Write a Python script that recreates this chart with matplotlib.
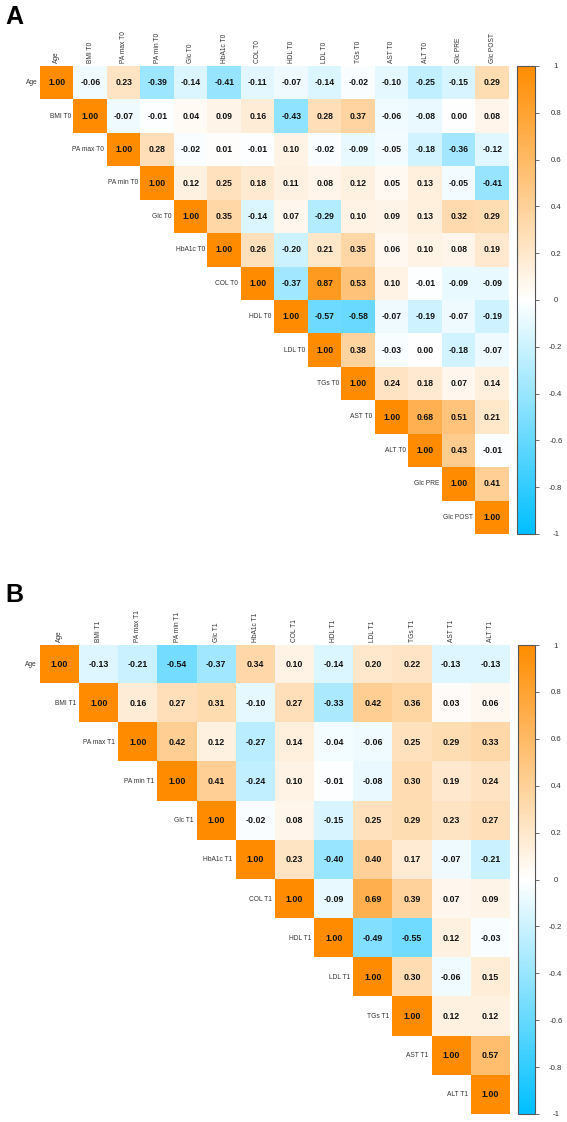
import matplotlib
matplotlib.use("Agg")
import matplotlib.pyplot as plt
import numpy as np
from matplotlib.colors import LinearSegmentedColormap

plt.rcParams["font.family"] = ["Liberation Sans", "DejaVu Sans"]

labels_a = ["Age", "BMI T0", "PA max T0", "PA min T0", "Glc T0", "HbA1c T0", "COL T0",
            "HDL T0", "LDL T0", "TGs T0", "AST T0", "ALT T0", "Glc PRE", "Glc POST"]
rows_a = [
    [1.00, -0.06, 0.23, -0.39, -0.14, -0.41, -0.11, -0.07, -0.14, -0.02, -0.10, -0.25, -0.15, 0.29],
    [1.00, -0.07, -0.01, 0.04, 0.09, 0.16, -0.43, 0.28, 0.37, -0.06, -0.08, 0.00, 0.08],
    [1.00, 0.28, -0.02, 0.01, -0.01, 0.10, -0.02, -0.09, -0.05, -0.18, -0.36, -0.12],
    [1.00, 0.12, 0.25, 0.18, 0.11, 0.08, 0.12, 0.05, 0.13, -0.05, -0.41],
    [1.00, 0.35, -0.14, 0.07, -0.29, 0.10, 0.09, 0.13, 0.32, 0.29],
    [1.00, 0.26, -0.20, 0.21, 0.35, 0.06, 0.10, 0.08, 0.19],
    [1.00, -0.37, 0.87, 0.53, 0.10, -0.01, -0.09, -0.09],
    [1.00, -0.57, -0.58, -0.07, -0.19, -0.07, -0.19],
    [1.00, 0.38, -0.03, 0.00, -0.18, -0.07],
    [1.00, 0.24, 0.18, 0.07, 0.14],
    [1.00, 0.68, 0.51, 0.21],
    [1.00, 0.43, -0.01],
    [1.00, 0.41],
    [1.00],
]

labels_b = ["Age", "BMI T1", "PA max T1", "PA min T1", "Glc T1", "HbA1c T1", "COL T1",
            "HDL T1", "LDL T1", "TGs T1", "AST T1", "ALT T1"]
rows_b = [
    [1.00, -0.13, -0.21, -0.54, -0.37, 0.34, 0.10, -0.14, 0.20, 0.22, -0.13, -0.13],
    [1.00, 0.16, 0.27, 0.31, -0.10, 0.27, -0.33, 0.42, 0.36, 0.03, 0.06],
    [1.00, 0.42, 0.12, -0.27, 0.14, -0.04, -0.06, 0.25, 0.29, 0.33],
    [1.00, 0.41, -0.24, 0.10, -0.01, -0.08, 0.30, 0.19, 0.24],
    [1.00, -0.02, 0.08, -0.15, 0.25, 0.29, 0.23, 0.27],
    [1.00, 0.23, -0.40, 0.40, 0.17, -0.07, -0.21],
    [1.00, -0.09, 0.69, 0.39, 0.07, 0.09],
    [1.00, -0.49, -0.55, 0.12, -0.03],
    [1.00, 0.30, -0.06, 0.15],
    [1.00, 0.12, 0.12],
    [1.00, 0.57],
    [1.00],
]

cbar_ticks = [1, 0.8, 0.6, 0.4, 0.2, 0, -0.2, -0.4, -0.6, -0.8, -1]

cmap = LinearSegmentedColormap.from_list("corr", ["#00BFFF", "#FFFFFF", "#FF8C00"])

W, H = 567, 1122
fig = plt.figure(figsize=(W / 100, H / 100), dpi=100)


def px_axes(x0, y0, x1, y1):
    return fig.add_axes([x0 / W, 1 - y1 / H, (x1 - x0) / W, (y1 - y0) / H])


def upper_matrix(rows):
    n = len(rows)
    mat = np.full((n, n), np.nan)
    for i, row in enumerate(rows):
        mat[i, i:] = row
    return np.ma.masked_invalid(mat)


def draw_panel(rows, labels, box, cbar_box, val_size, lab_size):
    mat = upper_matrix(rows)
    n = len(labels)
    ax = px_axes(*box)
    im = ax.imshow(mat, cmap=cmap, vmin=-1, vmax=1, aspect="auto", interpolation="nearest")
    ax.set_xlim(-0.5, n - 0.5)
    ax.set_ylim(n - 0.5, -0.5)
    ax.axis("off")
    for i in range(n):
        for j in range(i, n):
            ax.text(j, i, f"{mat[i, j]:.2f}", ha="center", va="center",
                    fontsize=val_size, fontweight="bold", color="#111111")
        ax.text(i - 0.58, i, labels[i], ha="right", va="center",
                fontsize=lab_size, color="#333333")
        ax.text(i, -0.58, labels[i], ha="center", va="bottom", rotation=90,
                fontsize=lab_size, color="#333333")

    cax = px_axes(*cbar_box)
    cb = fig.colorbar(im, cax=cax, ticks=cbar_ticks)
    cb.outline.set_linewidth(0.8)
    cb.outline.set_edgecolor("#555555")
    cb.ax.set_yticklabels([f"{t:g}" for t in cbar_ticks], ha="center")
    cb.ax.tick_params(length=3, width=0.6, pad=12, labelsize=5.6,
                      colors="#555555", labelcolor="#333333")
    return ax


draw_panel(rows_a, labels_a, (40, 66, 509, 534), (517, 66, 535, 534), 6.2, 4.8)
draw_panel(rows_b, labels_b, (40, 645, 510, 1114), (518, 645, 535, 1114), 6.4, 4.8)

fig.text(5 / W, 1 - 17 / H, "A", fontsize=18, fontweight="bold", va="center", ha="left")
fig.text(5 / W, 1 - 595 / H, "B", fontsize=18, fontweight="bold", va="center", ha="left")

fig.savefig("out.png", dpi=100)
